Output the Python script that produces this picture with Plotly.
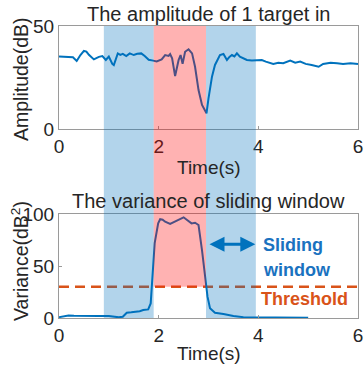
import plotly.graph_objects as go

# ---------------- data ----------------
amp_t = [0.0, 0.1, 0.2, 0.28, 0.355, 0.43, 0.5, 0.55, 0.6, 0.7, 0.8, 0.87, 0.94, 1.0,
         1.07, 1.1, 1.18, 1.23, 1.28, 1.35, 1.42, 1.5, 1.57, 1.65, 1.72, 1.8, 1.89,
         1.96, 2.06, 2.13, 2.2, 2.23, 2.27, 2.33, 2.4, 2.44, 2.48, 2.53, 2.6, 2.67,
         2.73, 2.8, 2.87, 2.96, 3.0, 3.07, 3.13, 3.23, 3.3, 3.37, 3.42, 3.47, 3.52,
         3.57, 3.63, 3.7, 3.77, 3.87, 3.97, 4.07, 4.15, 4.3, 4.4, 4.5, 4.64, 4.74,
         4.84, 4.95, 5.07, 5.21, 5.3, 5.45, 5.58, 5.7, 5.85, 6.0]
amp_v = [35.2, 35.0, 35.1, 34.8, 33.0, 35.9, 37.9, 37.6, 36.0, 33.8, 35.0, 35.4, 33.5, 35.2,
         31.6, 31.0, 36.7, 36.0, 36.5, 35.4, 36.7, 35.9, 36.5, 36.7, 35.4, 33.6, 33.2,
         32.8, 33.8, 35.9, 35.5, 36.4, 34.3, 25.7, 33.5, 35.9, 31.6, 37.5, 38.7, 36.7,
         30.2, 18.9, 11.7, 7.6, 14.9, 25.4, 31.1, 35.9, 36.4, 33.5, 35.0, 35.9, 35.2,
         36.7, 35.1, 34.2, 33.5, 33.2, 33.5, 33.5, 32.7, 31.6, 32.2, 31.9, 33.2, 32.2,
         32.7, 31.6, 31.1, 30.2, 31.6, 32.2, 31.9, 31.6, 31.9, 31.6]

var_t = [0.0, 0.1, 0.19, 0.3, 0.45, 0.6, 0.8, 1.0, 1.1, 1.2, 1.28, 1.36, 1.45, 1.53,
         1.62, 1.69, 1.79, 1.84, 1.87, 1.92, 1.99, 2.03, 2.08, 2.13, 2.23, 2.33, 2.43,
         2.5, 2.57, 2.66, 2.73, 2.8, 2.87, 2.93, 2.98, 3.03, 3.13, 3.3, 3.5, 3.7, 4.0,
         4.5, 5.0]
var_v = [0.8, 1.8, 2.5, 2.2, 1.9, 2.0, 1.9, 1.9, 1.5, 0.7, 1.2, 5.1, 5.5, 5.8,
         6.5, 7.7, 8.3, 14, 40, 72, 91, 95, 94.5, 92.6, 90.4, 92.6, 95,
         96.8, 94.2, 91, 91.6, 89.4, 65, 40, 20.5, 9.3, 5.1, 3.8, 1.9, 0.8, 0.6,
         0.4, 0.3]

threshold = 30
blue_windows = [(0.9, 1.9), (2.95, 3.95)]
red_window = (1.9, 2.95)
arrow_span = (2.99, 3.94)
arrow_level = 71

x_ticks = [0, 2, 4, 6]
amp_ticks = [0, 50]
var_ticks = [0, 50, 100]

# ---------------- layout helpers ----------------
W, H = 364, 370
def px(x):
    return x / W
def py(y):
    return 1 - y / H

xdom = [px(59), px(358)]
top_dom = [py(129), py(26)]
bot_dom = [py(318), py(214)]

LINE_BLUE = "#0072BD"
ORANGE = "#D95319"
TXT = "#262626"
FONT = "Liberation Sans, Arial, sans-serif"

fig = go.Figure()
fig.add_trace(go.Scatter(x=amp_t, y=amp_v, mode="lines",
                         line=dict(color=LINE_BLUE, width=2), xaxis="x", yaxis="y"))
fig.add_trace(go.Scatter(x=[x_ticks[0], x_ticks[-1]], y=[threshold, threshold], mode="lines",
                         line=dict(color=ORANGE, width=2.5, dash="10px,6px"),
                         xaxis="x2", yaxis="y2"))
fig.add_trace(go.Scatter(x=var_t, y=var_v, mode="lines",
                         line=dict(color=LINE_BLUE, width=2), xaxis="x2", yaxis="y2"))

axis_common = dict(showline=True, linecolor="#9a9a9a", linewidth=1, mirror=True,
                   ticks="inside", ticklen=3, tickcolor="#9a9a9a",
                   showgrid=False, zeroline=False, automargin=False,
                   tickfont=dict(family=FONT, size=19, color=TXT))

fig.update_layout(
    width=W, height=H, margin=dict(l=0, r=0, t=0, b=0, autoexpand=False),
    paper_bgcolor="white", plot_bgcolor="white", showlegend=False,
    xaxis=dict(domain=xdom, range=[0, 6], tickvals=x_ticks, anchor="y", **axis_common),
    yaxis=dict(domain=top_dom, range=[0, 50], tickvals=amp_ticks, anchor="x", **axis_common),
    xaxis2=dict(domain=xdom, range=[0, 6], tickvals=x_ticks, anchor="y2", **axis_common),
    yaxis2=dict(domain=bot_dom, range=[0, 100], tickvals=var_ticks, anchor="x2", **axis_common),
)

# shading windows (spanning both panels)
red_bottom = bot_dom[0] + threshold / 100 * (bot_dom[1] - bot_dom[0])
shapes = []
for a, b in blue_windows:
    shapes.append(dict(type="rect", xref="x", yref="paper", x0=a, x1=b,
                       y0=bot_dom[0], y1=top_dom[1], layer="above",
                       fillcolor="rgba(0,114,189,0.3)", line=dict(width=0)))
shapes.append(dict(type="rect", xref="x", yref="paper", x0=red_window[0], x1=red_window[1],
                   y0=red_bottom, y1=top_dom[1], layer="above",
                   fillcolor="rgba(255,0,0,0.3)", line=dict(width=0)))
fig.update_layout(shapes=shapes)

ann = []
def text(t, x, y, size, color=TXT, bold=False, angle=0, xanchor="center"):
    ann.append(dict(text=("<b>%s</b>" % t) if bold else t, x=px(x), y=py(y),
                    xref="paper", yref="paper", showarrow=False, textangle=angle,
                    xanchor=xanchor, yanchor="middle",
                    font=dict(family=FONT, size=size, color=color)))

text("The amplitude of 1 target in", 209, 14, 20)
text("The variance of sliding window", 209, 201, 20)
text("Time(s)", 209, 167, 19)
text("Time(s)", 209, 353, 19)
text("Amplitude(dB)", 21, 79, 19.5, angle=-90)
text("Variance(dB<sup>2</sup>)", 20, 261, 19.5, angle=-90)
text("Sliding", 261, 245, 18, color="#1a72c0", bold=True, xanchor="left")
text("window", 261, 270, 18, color="#1a72c0", bold=True, xanchor="left")
text("Threshold", 259, 299, 18, color=ORANGE, bold=True, xanchor="left")

ann.append(dict(x=arrow_span[1], y=arrow_level, ax=arrow_span[0], ay=arrow_level,
                xref="x2", yref="y2", axref="x2", ayref="y2", text="",
                showarrow=True, arrowhead=2, startarrowhead=2, arrowside="end+start",
                arrowsize=1, arrowwidth=3, arrowcolor=LINE_BLUE))
fig.update_layout(annotations=ann)

fig.write_html("out.html", config={"displayModeBar": False},
               post_script="document.body.style.margin='0px';document.body.style.overflow='hidden';")
